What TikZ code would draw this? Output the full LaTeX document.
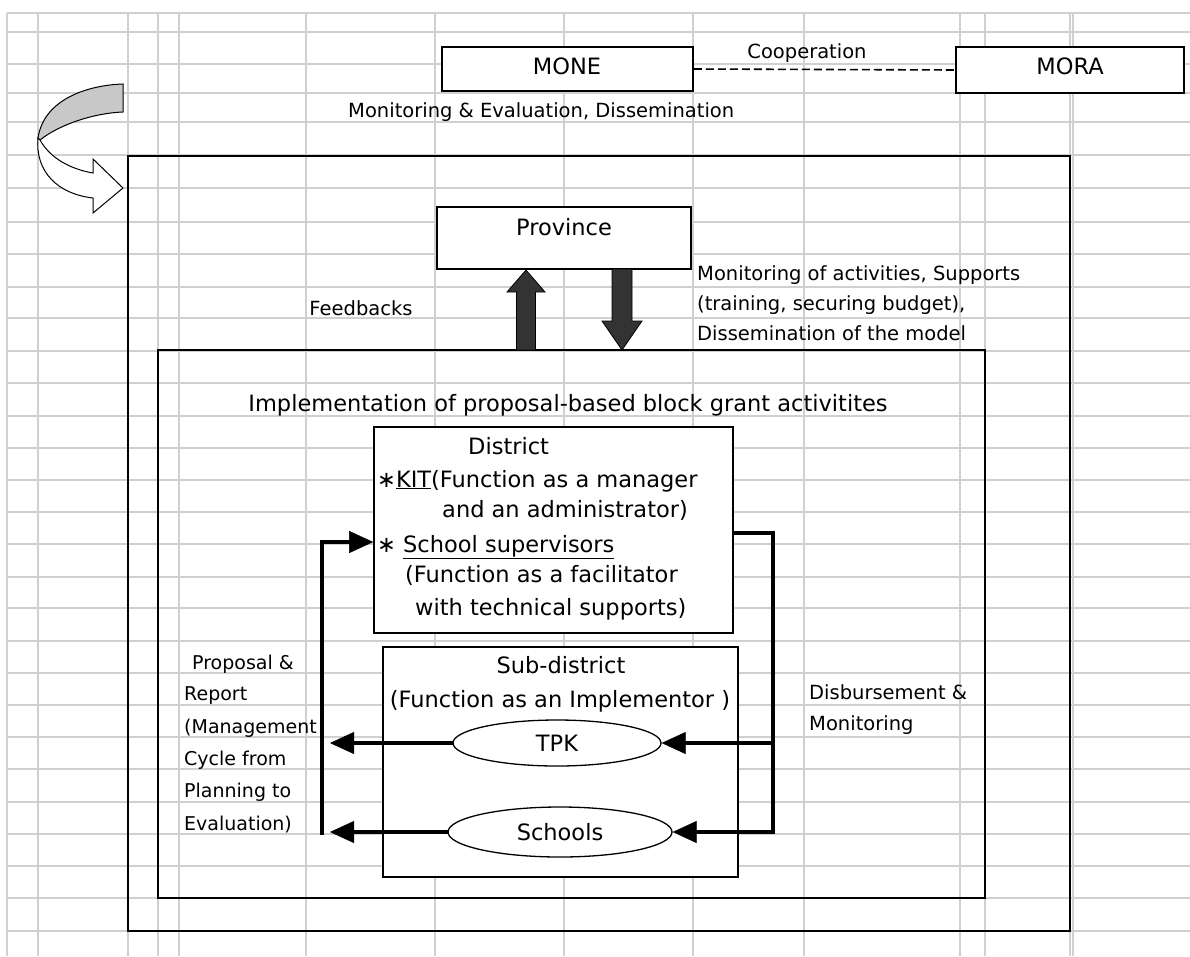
\documentclass[tikz,border=0pt]{standalone}
\usepackage{fontspec}
\setmainfont{DejaVu Sans}
\usetikzlibrary{arrows.meta,shapes.geometric}
\definecolor{gridc}{HTML}{D0D0D0}
\definecolor{blockc}{HTML}{333333}
\definecolor{curvec}{HTML}{C8C8C8}
\newcommand{\fsbig}{\fontsize{22.5}{27}\selectfont}
\newcommand{\fssmall}{\fontsize{19.5}{24}\selectfont}
\newcommand{\fsside}{\fontsize{19}{24}\selectfont}
\tikzset{
  gridline/.style={draw=gridc, line width=1.1pt},
  box/.style={draw, line width=1.6pt, fill=white, inner sep=0pt},
  frame/.style={draw, line width=1.5pt, inner sep=0pt},
  oval/.style={ellipse, draw, line width=1.3pt, fill=white, inner sep=0pt, font=\fsbig},
  conn/.style={line width=4.2pt, line cap=rect, line join=miter},
  bigtip/.tip={Triangle[length=24pt,width=22pt,line width=0.5pt]},
  lbl/.style={inner sep=0pt, font=\fssmall},
  sidelbl/.style={inner sep=0pt, font=\fsside},
  btxt/.style={inner sep=0pt, font=\fsbig},
  blockarrow/.style={fill=blockc, draw=black, line width=0.8pt, line join=miter}
}
\begin{document}
\begin{tikzpicture}[x=1pt,y=-1pt]
\useasboundingbox (0,0) rectangle (1190,956);
\fill[white] (0,0) rectangle (1190,956);
% spreadsheet grid
\foreach \gx in {7,38,128,158,179,306,435,564,693,804,960,985,1070,1073}
  \draw[gridline] (\gx,13) -- (\gx,956);
\foreach \gy in {13,32,64,93,122,155,188,222,254,287,318,351,383,416,448,480,512,544,577,608,641,673,705,737,769,802,834,866,898,931}
  \draw[gridline] (7,\gy) -- (1190,\gy);

% top boxes
\node[box, minimum width=251pt, minimum height=44pt] (mone) at (567.5,69) {};
\node[box, minimum width=228pt, minimum height=46pt] (mora) at (1070,70) {};
\node[btxt, anchor=base] (monet) at (567,74) {MONE};
\node[btxt, anchor=base] (morat) at (1070,74) {MORA};
\draw[line width=1.6pt, dash pattern=on 8pt off 4pt] (mone.east) -- (mora.west);
\node[lbl, anchor=base] (coop) at (807,58) {Cooperation};
\node[lbl, anchor=base west] (me) at (348,117) {Monitoring \& Evaluation, Dissemination};

% curved arrow
\filldraw[fill=curvec, draw=black, line width=1pt]
  (123,84) .. controls (90,85) and (44,98) .. (38,138)
  -- (40,140) .. controls (60,124) and (95,113) .. (123,112) -- cycle;
\filldraw[fill=white, draw=black, line width=1pt]
  (38,138) .. controls (35,172) and (58,194) .. (93,198)
  -- (93,213) -- (123,188) -- (93,159) -- (93,173)
  .. controls (70,169) and (50,158) .. (40,140) -- cycle;

% frames
\node[frame, minimum width=942pt, minimum height=775pt] (outer) at (599,543.5) {};
\node[frame, minimum width=827pt, minimum height=548pt] (impl) at (571.5,624) {};

% province
\node[box, minimum width=254pt, minimum height=62pt] (province) at (564,238) {};
\node[btxt, anchor=base] (provt) at (564,235) {Province};

% block arrows
\filldraw[blockarrow] (516.5,350) -- (516.5,292) -- (507,292) -- (526,270) -- (545,292) -- (535.5,292) -- (535.5,350) -- cycle;
\filldraw[blockarrow] (612,269) -- (612,321) -- (602,321) -- (622,350) -- (642,321) -- (632,321) -- (632,269) -- cycle;

\node[lbl, anchor=base] (fb) at (361,315) {Feedbacks};
\node[lbl, anchor=base west] (m1) at (697,280) {Monitoring of activities, Supports};
\node[lbl, anchor=base west] (m2) at (697,310) {(training, securing budget),};
\node[lbl, anchor=base west] (m3) at (697,340) {Dissemination of the model};

\node[btxt, anchor=base] (implt) at (568,411) {Implementation of proposal-based block grant activitites};

% district
\node[box, minimum width=359pt, minimum height=206pt] (district) at (553.5,530) {};
\node[btxt, anchor=base west] (d1) at (468,454) {District};
\node[btxt, anchor=base west] (d2) at (377,487) {∗\underline{KIT}(Function as a manager};
\node[btxt, anchor=base west] (d3) at (442,517) {and an administrator)};
\node[btxt, anchor=base west] (d4) at (377,552) {∗ \underline{School supervisors}};
\node[btxt, anchor=base west] (d5) at (405,582) {(Function as a facilitator};
\node[btxt, anchor=base west] (d6) at (415,615) {with technical supports)};

% sub-district
\node[box, minimum width=355pt, minimum height=230pt] (subd) at (560.5,762) {};
\node[btxt, anchor=base] (sd1) at (561,673) {Sub-district};
\node[btxt, anchor=base] (sd2) at (560,707) {(Function as an Implementor )};
\node[oval, minimum width=208pt, minimum height=46pt] (tpk) at (557,743) {TPK};
\node[oval, minimum width=224pt, minimum height=50pt] (schools) at (560,832) {Schools};

% connectors
\coordinate (lx) at (330,0);
\coordinate (lb) at (322,833);
\coordinate (lt) at (322,542);
\coordinate (rt) at (773,533);
\coordinate (rb) at (773,832);
\draw[conn,-bigtip] (tpk.west) -- (tpk.west -| lx);
\draw[conn,-bigtip] (schools.west) -- (schools.west -| lx);
\draw[conn,-bigtip] (lb) -- (lt) -- (lt -| district.west);
\draw[conn] (rt -| district.east) -- (rt) -- (rb);
\draw[conn,-bigtip] (rb) -- (schools.east);
\draw[conn,-bigtip] (tpk.east -| rt) -- (tpk.east);

% side labels
\node[sidelbl, anchor=base west] (p1) at (192,669) {Proposal \&};
\node[sidelbl, anchor=base west] (p2) at (184,700) {Report};
\node[sidelbl, anchor=base west] (p3) at (184,733) {(Management};
\node[sidelbl, anchor=base west] (p4) at (184,765) {Cycle from};
\node[sidelbl, anchor=base west] (p5) at (184,797) {Planning to};
\node[sidelbl, anchor=base west] (p6) at (184,830) {Evaluation)};
\node[lbl, anchor=base west] (ds1) at (809,699) {Disbursement \&};
\node[lbl, anchor=base west] (ds2) at (809,730) {Monitoring};
\end{tikzpicture}
\end{document}
